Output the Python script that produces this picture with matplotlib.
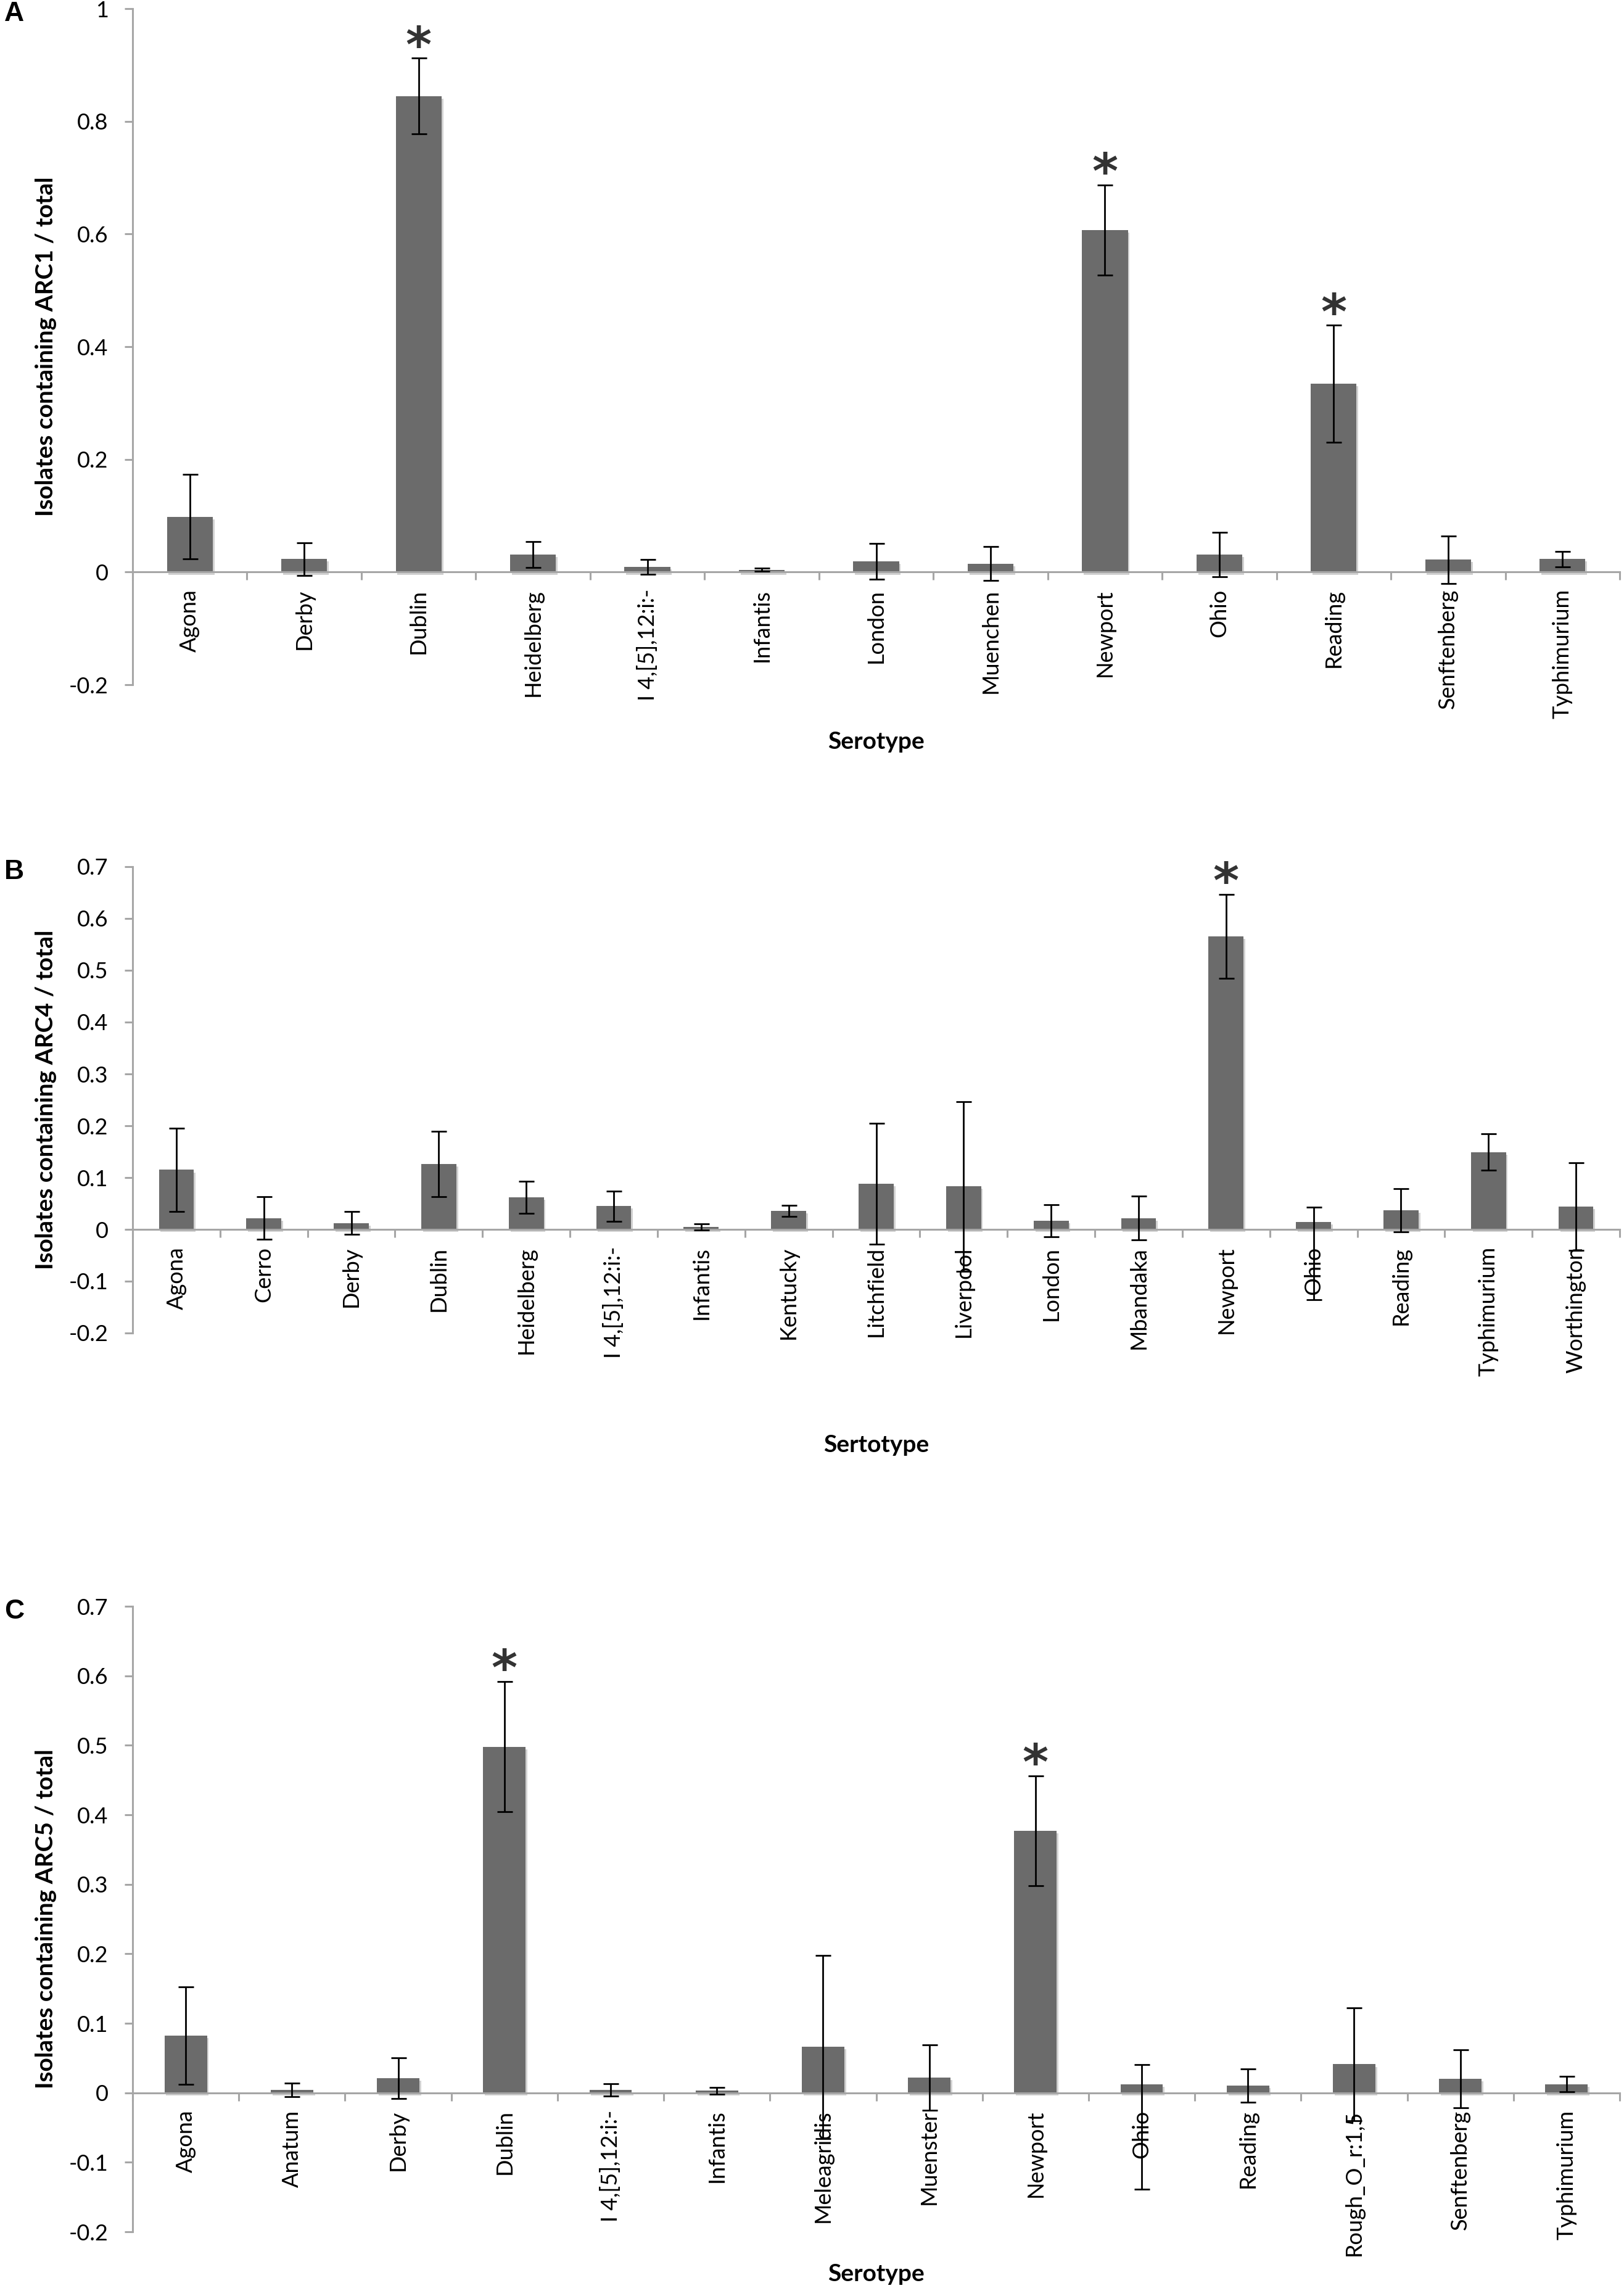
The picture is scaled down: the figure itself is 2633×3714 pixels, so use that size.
import matplotlib
matplotlib.use("Agg")
import matplotlib.pyplot as plt
from matplotlib import patheffects
from matplotlib.ticker import FuncFormatter, FixedLocator
import numpy as np

plt.rcParams['font.family'] = ['Lato', 'DejaVu Sans']

# panel A : ARC1
cats_a = ['Agona', 'Derby', 'Dublin', 'Heidelberg', 'I 4,[5],12:i:-', 'Infantis', 'London',
          'Muenchen', 'Newport', 'Ohio', 'Reading', 'Senftenberg', 'Typhimurium']
vals_a = [0.098, 0.023, 0.845, 0.031, 0.009, 0.004, 0.019, 0.015, 0.607, 0.031, 0.334, 0.022, 0.023]
lo_a = [0.075, 0.029, 0.067, 0.023, 0.013, 0.003, 0.032, 0.030, 0.080, 0.039, 0.104, 0.042, 0.014]
hi_a = [0.075, 0.029, 0.067, 0.023, 0.013, 0.003, 0.032, 0.030, 0.080, 0.039, 0.104, 0.042, 0.014]
stars_a = ['Dublin', 'Newport', 'Reading']

# panel B : ARC4
cats_b = ['Agona', 'Cerro', 'Derby', 'Dublin', 'Heidelberg', 'I 4,[5],12:i:-', 'Infantis', 'Kentucky',
          'Litchfield', 'Liverpool', 'London', 'Mbandaka', 'Newport', 'Ohio', 'Reading',
          'Typhimurium', 'Worthington']
vals_b = [0.115, 0.022, 0.012, 0.126, 0.062, 0.045, 0.005, 0.036, 0.088, 0.083, 0.017, 0.022,
          0.566, 0.014, 0.037, 0.149, 0.044]
lo_b = [0.080, 0.041, 0.022, 0.063, 0.031, 0.029, 0.006, 0.0105, 0.117, 0.164, 0.031, 0.042,
        0.081, 0.150, 0.042, 0.035, 0.085]
hi_b = [0.080, 0.041, 0.022, 0.063, 0.031, 0.029, 0.006, 0.0105, 0.117, 0.164, 0.031, 0.042,
        0.081, 0.029, 0.042, 0.035, 0.085]
stars_b = ['Newport']

# panel C : ARC5
cats_c = ['Agona', 'Anatum', 'Derby', 'Dublin', 'I 4,[5],12:i:-', 'Infantis', 'Meleagridis',
          'Muenster', 'Newport', 'Ohio', 'Reading', 'Rough_O_r:1,5', 'Senftenberg', 'Typhimurium']
vals_c = [0.082, 0.004, 0.021, 0.498, 0.004, 0.003, 0.066, 0.022, 0.377, 0.0125, 0.0105, 0.041,
          0.020, 0.0125]
lo_c = [0.070, 0.010, 0.029, 0.094, 0.009, 0.005, 0.132, 0.047, 0.079, 0.151, 0.024, 0.081,
        0.042, 0.011]
hi_c = [0.070, 0.010, 0.029, 0.094, 0.009, 0.005, 0.132, 0.047, 0.079, 0.028, 0.024, 0.081,
        0.042, 0.011]
stars_c = ['Dublin', 'Newport']

W, H = 2633, 3714
fig = plt.figure(figsize=(W / 100, H / 100), dpi=100)

GRAY = '#a6a6a6'
left, right = 215 / W, 2626 / W


def panel(top_px, bot_px, letter, cats, vals, lo, hi, stars, ymax, step, ylabel, xlabel, xlab_px):
    ax = fig.add_axes([left, 1 - bot_px / H, right - left, (bot_px - top_px) / H])
    x = np.arange(len(cats))
    bars = ax.bar(x, vals, width=0.4, color='#6b6b6b', zorder=2)
    for b in bars:
        b.set_path_effects([patheffects.SimplePatchShadow(offset=(2, -3), shadow_rgbFace='#999999', alpha=0.45),
                            patheffects.Normal()])
    ax.errorbar(x, vals, yerr=[lo, hi], fmt='none', ecolor='black', elinewidth=2.0,
                capsize=9, capthick=2.0, zorder=4, clip_on=False)
    for s in stars:
        i = cats.index(s)
        ax.annotate('*', (i, vals[i] + hi[i]), xytext=(0, -4), textcoords='offset points',
                    ha='center', va='baseline', fontsize=58, fontweight='bold',
                    family='DejaVu Sans', color='#333333', zorder=5)

    ax.set_xlim(-0.5, len(cats) - 0.5)
    ax.set_ylim(-0.2, ymax)
    ax.set_yticks(np.round(np.arange(-0.2, ymax + 1e-9, step), 2))
    ax.yaxis.set_major_formatter(FuncFormatter(lambda v, p: '%g' % round(v, 2)))

    for sp in ['top', 'right']:
        ax.spines[sp].set_visible(False)
    ax.spines['bottom'].set_position(('data', 0))
    for sp in ['left', 'bottom']:
        ax.spines[sp].set_color(GRAY)
        ax.spines[sp].set_linewidth(2.2)

    ax.xaxis.set_major_locator(FixedLocator(np.arange(len(cats) + 1) - 0.5))
    ax.xaxis.set_minor_locator(FixedLocator(x))
    ax.set_xticklabels([], minor=False)
    ax.set_xticklabels(cats, minor=True, rotation=90, ha='center', va='top', fontsize=26)
    ax.tick_params(axis='x', which='major', direction='out', length=9.4, width=2.2, color=GRAY)
    ax.tick_params(axis='x', which='minor', length=0, pad=20)
    ax.tick_params(axis='y', direction='out', length=9.4, width=2.2, color=GRAY, pad=19, labelsize=26)

    ax.set_ylabel(ylabel, fontsize=28, fontweight='bold')
    ax.yaxis.set_label_coords((75 - 215) / (2626 - 215), 0.5)
    ax.yaxis.label.set_va('center')
    ax.set_xlabel(xlabel, fontsize=28, fontweight='bold')
    ax.xaxis.set_label_coords(0.5, (bot_px - xlab_px) / (bot_px - top_px))
    ax.xaxis.label.set_va('center')

    fig.text(7 / W, 1 - (top_px - 12) / H, letter, ha='left', va='top', fontsize=32,
             fontweight='bold', family='Liberation Sans')
    return ax


panel(14, 1110, 'A', cats_a, vals_a, lo_a, hi_a, stars_a, 1.0, 0.2,
      'Isolates containing ARC1 / total', 'Serotype', 1203)
panel(1405, 2161, 'B', cats_b, vals_b, lo_b, hi_b, stars_b, 0.7, 0.1,
      'Isolates containing ARC4 / total', 'Sertotype', 2343)
panel(2604, 3618, 'C', cats_c, vals_c, lo_c, hi_c, stars_c, 0.7, 0.1,
      'Isolates containing ARC5 / total', 'Serotype', 3687)

fig.savefig('out.png', dpi=100)
